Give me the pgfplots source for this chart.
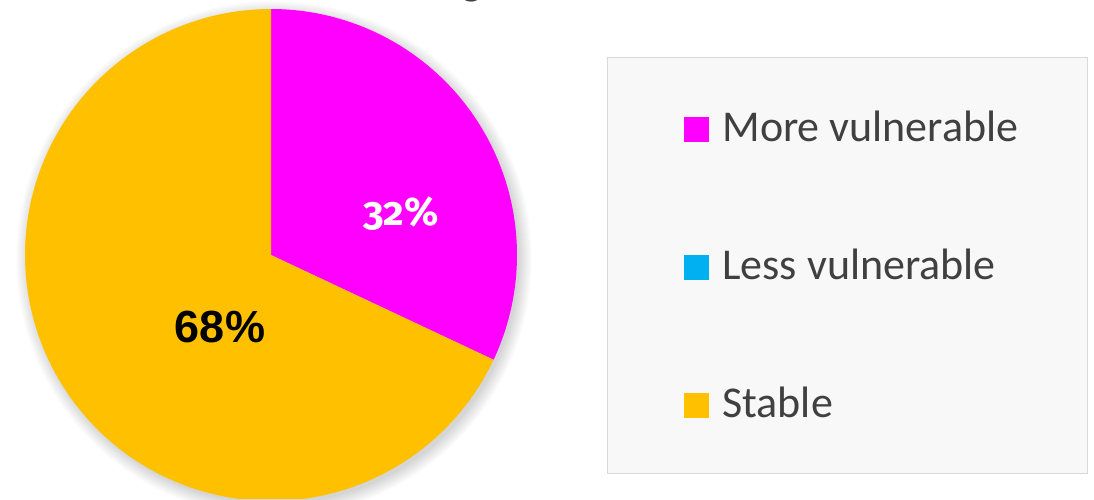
\documentclass[border=0pt]{standalone}
\usepackage{pgfplots}
\pgfplotsset{compat=1.18}
\usepackage{fontspec}
\setmainfont{Carlito}
\newfontfamily\arialf{Liberation Sans}
\newfontfamily\oldnum{Fira Sans}[Numbers=OldStyle]
\definecolor{magC}{HTML}{FF00FF}
\definecolor{yelC}{HTML}{FFC000}
\definecolor{cyaC}{HTML}{00B0F0}
\definecolor{txtC}{HTML}{404040}
\definecolor{legFill}{HTML}{F8F8F8}
\definecolor{legDraw}{HTML}{D9D9D9}
% pie values (percent)
\def\vMore{32}
\def\vLess{0}
\def\vStable{68}
\pgfmathsetmacro\aStart{90}
\pgfmathsetmacro\aMore{90-3.6*\vMore}
\pgfmathsetmacro\aLess{\aMore-3.6*\vLess}
\pgfmathsetmacro\aStable{\aLess-3.6*\vStable}
\begin{document}
\begin{tikzpicture}[x=0.5pt,y=0.5pt]
\useasboundingbox (0,0) rectangle (1094,499);
% soft shadow
\foreach \r in {1,...,14}{
  \fill[black,opacity=0.011] (274,240) circle[radius=244+\r*1.0];
}
\begin{axis}[at={(0,0)}, anchor=south west, x=0.5pt, y=0.5pt,
  xmin=0, xmax=1094, ymin=0, ymax=499, hide axis, clip=true,
  legend cell align=left,
  legend image code/.code={\fill[#1, draw=none] (0pt,-5.75pt) rectangle (12.5pt,6.75pt);},
  legend style={at={(axis cs:684,390)}, anchor=north west, draw=none, fill=none,
    inner sep=0pt, row sep=48pt, column sep=6.5pt,
    nodes={inner sep=0pt, text height=16pt, text depth=5pt},
    font=\fontsize{22}{26}\selectfont, text=txtC},
]
\draw[draw=legDraw, fill=legFill] (axis cs:607,26) rectangle (axis cs:1087,442);
\addplot[draw=none, fill=magC, domain=\aMore:\aStart, samples=200, forget plot]
  ({271+246*cos(x)},{244+246*sin(x)}) -- (axis cs:271,244) -- cycle;
\addplot[draw=none, fill=yelC, domain=\aStable:\aLess, samples=300, forget plot]
  ({271+246*cos(x)},{244+246*sin(x)}) -- (axis cs:271,244) -- cycle;
\addlegendimage{fill=magC}
\addlegendentry{More vulnerable}
\addlegendimage{fill=cyaC}
\addlegendentry{Less vulnerable}
\addlegendimage{fill=yelC}
\addlegendentry{Stable}
\node[text=white, font=\oldnum\bfseries\fontsize{20}{24}\selectfont] at (axis cs:401,285) {\vMore\%};
\node[text=black, font=\arialf\bfseries\fontsize{22.5}{25}\selectfont] at (axis cs:220,172) {\vStable\%};
\node[anchor=base, text=txtC, font=\fontsize{22}{26}\selectfont] at (axis cs:478,504) {(Region)};
\end{axis}
\end{tikzpicture}
\end{document}
